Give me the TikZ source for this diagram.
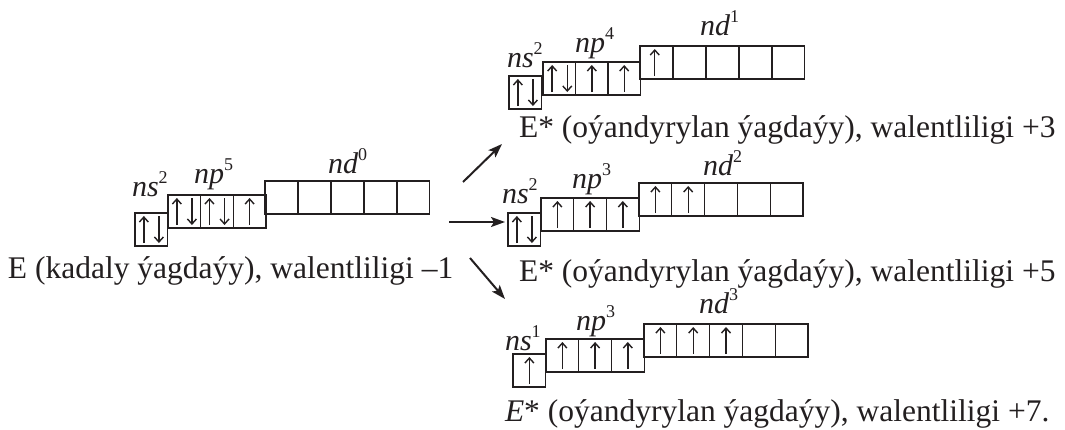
\documentclass[tikz,border=0pt]{standalone}
\usepackage{fontspec}
\setmainfont{Liberation Serif}
\usetikzlibrary{arrows.meta,calc}
\definecolor{ink}{RGB}{35,31,32}
\newcommand{\orbl}[2]{\textit{#1}\raisebox{0.42em}{\fontsize{18}{18}\selectfont #2}}
\newcommand{\eup}[2]{\draw[elec] ($(#1.south west)!#2!(#1.south east)+(0,-3)$) -- ($(#1.north west)!#2!(#1.north east)+(0,3)$);}
\newcommand{\edn}[2]{\draw[elec] ($(#1.north west)!#2!(#1.north east)+(0,3)$) -- ($(#1.south west)!#2!(#1.south east)+(0,-3)$);}
\begin{document}
\begin{tikzpicture}[x=1pt,y=-1pt,
  cell/.style={draw=ink, line width=1.2pt, minimum width=32.8pt, minimum height=33pt, inner sep=0pt, outer sep=0pt, anchor=north west},
  elec/.style={draw=ink, line width=1.4pt, -{Straight Barb[length=5pt,width=9pt]}},
  big/.style={draw=ink, line width=2pt, -{Stealth[length=14pt,width=10pt,inset=3pt]}},
  lab/.style={text=ink, inner sep=0pt, outer sep=0pt, anchor=base west, font=\fontsize{30}{34}\selectfont},
  txt/.style={text=ink, inner sep=0pt, outer sep=0pt, anchor=base west, font=\fontsize{31.5}{36}\selectfont}]
\useasboundingbox (0,0) rectangle (1065,429);

% ---------- ground state (left) ----------
\node[cell] (L-s1) at (135,213) {};
\foreach \i in {1,2,3} \node[cell] (L-p\i) at ({168+32.6*(\i-1)},195) {};
\foreach \i in {1,...,5} \node[cell] (L-d\i) at ({265+33*(\i-1)},181) {};
\eup{L-s1}{0.27}\edn{L-s1}{0.73}
\eup{L-p1}{0.27}\edn{L-p1}{0.73}
\eup{L-p2}{0.27}\edn{L-p2}{0.73}
\eup{L-p3}{0.5}
\node[lab] (L-ls) at (132,196) {\orbl{ns}{2}};
\node[lab] (L-lp) at (194,183) {\orbl{np}{5}};
\node[lab] (L-ld) at (328,173) {\orbl{nd}{0}};
\node[txt] (L-t) at (8,278) {E (kadaly ýagdaýy), walentliligi –1};

% ---------- excited state +3 (top) ----------
\node[cell] (A-s1) at (509,76) {};
\foreach \i in {1,2,3} \node[cell] (A-p\i) at ({543+32.4*(\i-1)},62) {};
\foreach \i in {1,...,5} \node[cell] (A-d\i) at ({640+33*(\i-1)},46) {};
\eup{A-s1}{0.27}\edn{A-s1}{0.73}
\eup{A-p1}{0.28}\edn{A-p1}{0.74}
\eup{A-p2}{0.5}
\eup{A-p3}{0.5}
\eup{A-d1}{0.45}
\node[lab] (A-ls) at (507,67) {\orbl{ns}{2}};
\node[lab] (A-lp) at (575,52) {\orbl{np}{4}};
\node[lab] (A-ld) at (700,35) {\orbl{nd}{1}};
\node[txt] (A-t) at (519,137) {E* (oýandyrylan ýagdaýy), walentliligi +3};

% ---------- excited state +5 (middle) ----------
\node[cell] (B-s1) at (508,213) {};
\foreach \i in {1,2,3} \node[cell] (B-p\i) at ({541+32.7*(\i-1)},198) {};
\foreach \i in {1,...,5} \node[cell] (B-d\i) at ({639+32.8*(\i-1)},183) {};
\eup{B-s1}{0.27}\edn{B-s1}{0.73}
\eup{B-p1}{0.5}
\eup{B-p2}{0.5}
\eup{B-p3}{0.5}
\eup{B-d1}{0.5}
\eup{B-d2}{0.5}
\node[lab] (B-ls) at (502,203) {\orbl{ns}{2}};
\node[lab] (B-lp) at (572,188) {\orbl{np}{3}};
\node[lab] (B-ld) at (703,175) {\orbl{nd}{2}};
\node[txt] (B-t) at (519,281) {E* (oýandyrylan ýagdaýy), walentliligi +5};

% ---------- excited state +7 (bottom) ----------
\node[cell] (C-s1) at (513,354) {};
\foreach \i in {1,2,3} \node[cell] (C-p\i) at ({546+32.7*(\i-1)},339) {};
\foreach \i in {1,...,5} \node[cell] (C-d\i) at ({644+32.8*(\i-1)},324) {};
\eup{C-s1}{0.5}
\eup{C-p1}{0.5}
\eup{C-p2}{0.5}
\eup{C-p3}{0.5}
\eup{C-d1}{0.5}
\eup{C-d2}{0.5}
\eup{C-d3}{0.5}
\node[lab] (C-ls) at (505,350) {\orbl{ns}{1}};
\node[lab] (C-lp) at (576,330) {\orbl{np}{3}};
\node[lab] (C-ld) at (699,313) {\orbl{nd}{3}};
\node[txt] (C-t) at (505,421) {\textit{E}* (oýandyrylan ýagdaýy), walentliligi +7.};

% ---------- transitions ----------
\coordinate (u0) at (463,182); \coordinate (u1) at (502,144);
\coordinate (m0) at (449,222); \coordinate (m1) at (505,222);
\coordinate (d0) at (470,258); \coordinate (d1) at (505,299);
\draw[big] (u0) -- (u1);
\draw[big] (m0) -- (m1);
\draw[big] (d0) -- (d1);
\end{tikzpicture}
\end{document}
